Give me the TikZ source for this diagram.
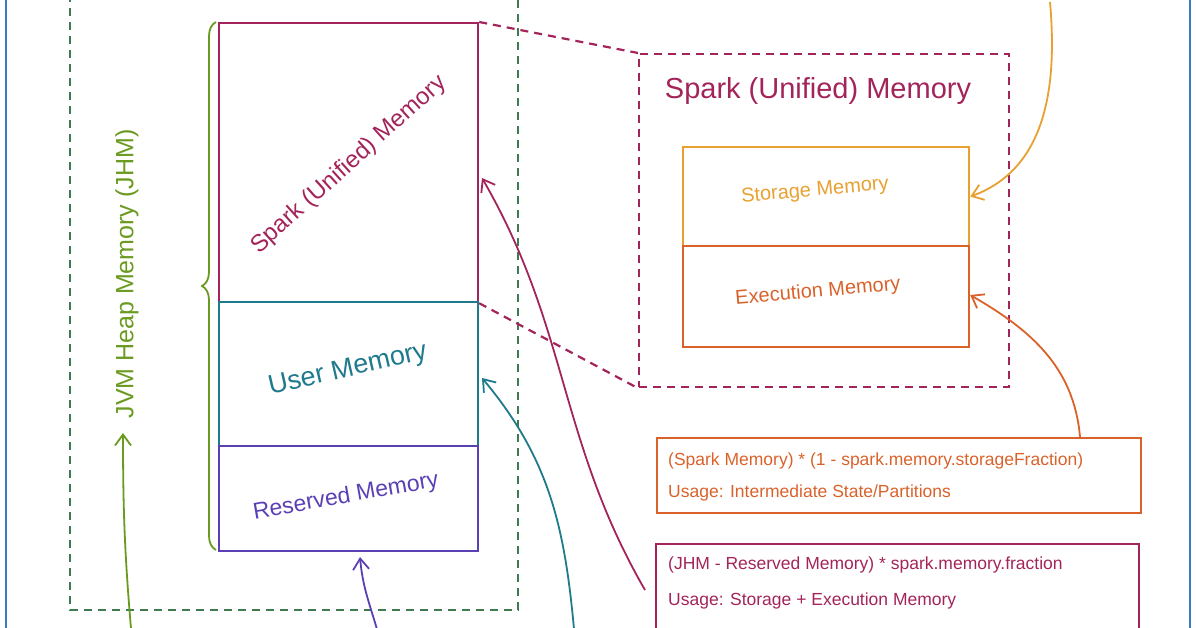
\documentclass[tikz,border=0pt]{standalone}
\usepackage{fontspec}
\setmainfont{Liberation Sans}
\usetikzlibrary{decorations.pathreplacing,arrows.meta}
\definecolor{crim}{HTML}{A3245A}
\definecolor{teal2}{HTML}{1F7A8C}
\definecolor{purp}{HTML}{5B3FB5}
\definecolor{grn}{HTML}{6A9A1F}
\definecolor{dgrn}{HTML}{3D7A4F}
\definecolor{org}{HTML}{E8A030}
\definecolor{dorg}{HTML}{D9622B}
\definecolor{blu}{HTML}{3A7CC0}
\tikzset{
 box/.style={draw,line width=2.2pt,inner sep=0},
 dbox/.style={draw,line width=2.2pt,dash pattern=on 8pt off 6pt},
 arr/.style={line width=1.8pt,-{Straight Barb[length=11pt,width=16pt,line width=1.8pt]}},
 lbl/.style={font=\fontsize{#1}{#1}\selectfont,inner sep=0}
}
\begin{document}
\begin{tikzpicture}[x=1pt,y=-1pt]
\useasboundingbox (0,0) rectangle (1196,628);
\begin{scope}
\clip (0,0) rectangle (1196,628);
\draw[blu,line width=2.4pt] (6,-20) rectangle (1190,660);
\draw[dbox,dgrn] (70,-20) rectangle (518,610);
\node[box,org,minimum width=448,minimum height=40,anchor=south west] (top) at (660,0) {};
% stack
\node[box,crim,minimum width=259,minimum height=279,anchor=north west] (spark) at (218,22) {};
\node[box,teal2,minimum width=259,minimum height=144,anchor=north west] (user) at (218,301) {};
\node[box,purp,minimum width=259,minimum height=105,anchor=north west] (res) at (218,445) {};
\node[lbl=24,crim,rotate=42] at (349,165) {Spark (Unified) Memory};
\node[lbl=27,teal2,rotate=13] at (348,370) {User Memory};
\node[lbl=23,purp,rotate=10] at (346,497) {Reserved Memory};
\draw[grn,line width=1.8pt,decorate,decoration={brace,amplitude=14pt}] (216,550) -- (216,22);
\node[lbl=25,grn,rotate=90] (jhm) at (127,274) {JVM Heap Memory (JHM)};
\coordinate (jb) at (132,640);
\draw[arr,grn] (jb) to[out=95,in=-90] (123,433);
% spark detail
\node[dbox,crim,minimum width=370,minimum height=333,anchor=north west,inner sep=0] (sd) at (638,53) {};
\draw[crim,line width=2.2pt,dash pattern=on 8pt off 6pt] (spark.north east) -- (sd.north west);
\draw[crim,line width=2.2pt,dash pattern=on 8pt off 6pt] (spark.south east) -- (sd.south west);
\node[lbl=29,crim] at (818,91) {Spark (Unified) Memory};
\node[box,org,minimum width=286,minimum height=99,anchor=north west] (st) at (682,146) {};
\node[box,dorg,minimum width=286,minimum height=101,anchor=north west] (ex) at (682,245) {};
\node[lbl=20,org,rotate=5] at (815,191) {Storage Memory};
\node[lbl=20,dorg,rotate=5] at (818,292) {Execution Memory};
% formula boxes
\node[box,dorg,minimum width=484,minimum height=75,anchor=north west] (b1) at (656,437) {};
\node[lbl=17.5,dorg,anchor=west] at (668,461) {(Spark Memory) * (1 - spark.memory.storageFraction)};
\node[lbl=17.5,dorg,anchor=west] at (668,493) {Usage: Intermediate State/Partitions};
\node[box,crim,minimum width=483,minimum height=100,anchor=north west] (b2) at (655,543) {};
\node[lbl=17.5,crim,anchor=west] at (668,565) {(JHM - Reserved Memory) * spark.memory.fraction};
\node[lbl=17.5,crim,anchor=west] at (668,601) {Usage: Storage + Execution Memory};
% arrows
\draw[arr,org] (1050,2) to[out=-85,in=20] (st.east);
\draw[arr,dorg] (1080,437) to[out=95,in=-30] (ex.east|-0,295);
\draw[arr,crim] (645,590) to[out=120,in=-60] (482,178);
\coordinate (tb) at (575,640);
\draw[arr,teal2] (tb) to[out=95,in=-50] (482,378);
\coordinate (pb) at (380,640);
\draw[arr,purp] (pb) to[out=105,in=-85] (360,557);
\end{scope}
\end{tikzpicture}
\end{document}
